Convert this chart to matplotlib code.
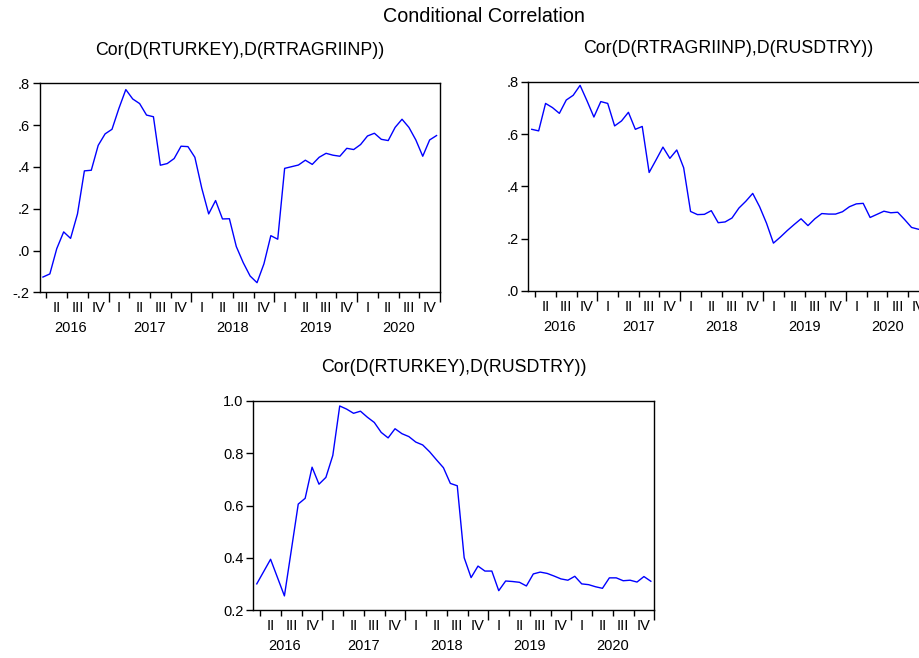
import matplotlib
matplotlib.use("Agg")
import matplotlib.pyplot as plt
import numpy as np

plt.rcParams['font.family'] = ['Liberation Sans', 'DejaVu Sans']

# Monthly observations, 2016M03 .. 2020M12
start_year, start_month = 2016, 3
years = [2016, 2017, 2018, 2019, 2020]
quarter_names = ["I", "II", "III", "IV"]

cor_turkey_agri = [
    -0.127, -0.112, 0.009, 0.089, 0.058, 0.175, 0.381, 0.384, 0.503, 0.558,
    0.580, 0.680, 0.770, 0.725, 0.703, 0.648, 0.640, 0.408, 0.416, 0.440,
    0.499, 0.497, 0.446, 0.298, 0.175, 0.239, 0.151, 0.152, 0.019, -0.058,
    -0.122, -0.154, -0.064, 0.071, 0.054, 0.393, 0.401, 0.409, 0.432, 0.412,
    0.446, 0.465, 0.456, 0.451, 0.489, 0.483, 0.507, 0.548, 0.561, 0.532,
    0.526, 0.589, 0.628, 0.589, 0.529, 0.451, 0.529, 0.550,
]

cor_agri_usd = [
    0.618, 0.612, 0.717, 0.701, 0.679, 0.730, 0.748, 0.786, 0.727, 0.665,
    0.724, 0.717, 0.631, 0.650, 0.683, 0.618, 0.629, 0.453, 0.501, 0.550,
    0.507, 0.539, 0.471, 0.304, 0.292, 0.293, 0.307, 0.261, 0.264, 0.279,
    0.317, 0.343, 0.373, 0.322, 0.259, 0.183, 0.206, 0.231, 0.254, 0.276,
    0.250, 0.276, 0.296, 0.294, 0.294, 0.303, 0.322, 0.333, 0.335, 0.281,
    0.293, 0.305, 0.299, 0.301, 0.273, 0.243, 0.236, 0.232,
]

cor_turkey_usd = [
    0.301, 0.348, 0.395, 0.325, 0.255, 0.430, 0.606, 0.628, 0.747, 0.682,
    0.708, 0.792, 0.981, 0.969, 0.953, 0.961, 0.938, 0.918, 0.880, 0.859,
    0.894, 0.875, 0.864, 0.843, 0.832, 0.806, 0.775, 0.745, 0.685, 0.676,
    0.401, 0.325, 0.369, 0.350, 0.350, 0.275, 0.312, 0.310, 0.307, 0.293,
    0.339, 0.346, 0.341, 0.331, 0.320, 0.315, 0.330, 0.301, 0.298, 0.290,
    0.284, 0.324, 0.324, 0.313, 0.315, 0.308, 0.329, 0.311,
]

W, H = 920, 658
fig = plt.figure(figsize=(W / 100, H / 100), dpi=100)
fig.patch.set_facecolor("white")


def rect(left, top, right, bottom):
    return [left / W, 1 - bottom / H, (right - left) / W, (bottom - top) / H]


def month_index(year, month):
    return (year - start_year) * 12 + (month - start_month)


def draw_panel(box, values, title, yticks, ylabels, ylim):
    ax = fig.add_axes(rect(*box))
    n = len(values)
    x = np.arange(n)
    ax.plot(x, values, color="#0000ff", lw=1.0)
    ax.set_xlim(-0.5, n - 0.5)
    ax.set_ylim(*ylim)
    for s in ax.spines.values():
        s.set_linewidth(1.0)
        s.set_color("black")

    ax.set_yticks(yticks)
    ax.set_yticklabels(ylabels, fontsize=10.5)
    ax.tick_params(axis="y", direction="out", length=5, width=1, pad=2)

    # quarter boundaries as ticks, year boundaries longer
    minor, major = [], []
    for yr in years + [years[-1] + 1]:
        for q in range(4):
            pos = month_index(yr, 1 + 3 * q) - 0.5
            if -0.5 < pos <= n - 0.5 + 1e-9:
                (major if q == 0 else minor).append(pos)
    ax.set_xticks(major)
    ax.set_xticklabels([])
    ax.set_xticks(minor, minor=True)
    ax.tick_params(axis="x", which="major", direction="out", length=7, width=1)
    ax.tick_params(axis="x", which="minor", direction="out", length=4.5, width=1)

    hpx = (box[3] - box[1])
    trans = ax.get_xaxis_transform()
    for yr in years:
        for q in range(4):
            a = month_index(yr, 1 + 3 * q) - 0.5
            b = a + 3
            if a < -0.5:
                continue
            ax.text((a + b) / 2, -15.7 / hpx, quarter_names[q], transform=trans,
                    ha="center", va="center", fontsize=10.5, clip_on=False)
        a = max(month_index(yr, 1) - 0.5, -0.5)
        b = month_index(yr, 12) + 0.5
        cx = (a + b) / 2 if a > -0.5 else (a + b) / 2 - 0.5
        ax.text(cx, -36 / hpx, str(yr), transform=trans,
                ha="center", va="center", fontsize=10.5, clip_on=False)

    cx_px = (box[0] + box[2]) / 2
    fig.text(cx_px / W, 1 - (box[1] - 33) / H, title, ha="center", va="center",
             fontsize=12.8)
    return ax


draw_panel((39.5, 83.3, 440, 292.3), cor_turkey_agri,
           "Cor(D(RTURKEY),D(RTRAGRIINP))",
           [-0.2, 0.0, 0.2, 0.4, 0.6, 0.8], ["-.2", ".0", ".2", ".4", ".6", ".8"],
           (-0.2, 0.8))

draw_panel((528.3, 81.7, 928.8, 291), cor_agri_usd,
           "Cor(D(RTRAGRIINP),D(RUSDTRY))",
           [0.0, 0.2, 0.4, 0.6, 0.8], [".0", ".2", ".4", ".6", ".8"],
           (0.0, 0.8))

draw_panel((253.3, 401, 654.3, 610.3), cor_turkey_usd,
           "Cor(D(RTURKEY),D(RUSDTRY))",
           [0.2, 0.4, 0.6, 0.8, 1.0], ["0.2", "0.4", "0.6", "0.8", "1.0"],
           (0.2, 1.0))

fig.text(484 / W, 1 - 17 / H, "Conditional Correlation", ha="center", va="center",
         fontsize=14.2)

fig.savefig("out.png", dpi=100)
